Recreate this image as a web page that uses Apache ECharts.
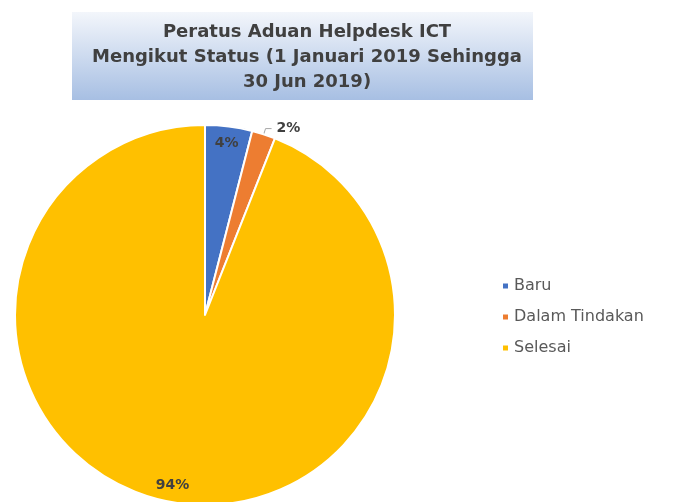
<!DOCTYPE html>
<html>
<head>
<meta charset="utf-8">
<script src="https://cdn.jsdelivr.net/npm/echarts@6/dist/echarts.min.js"></script>
<style>
  html, body { margin: 0; padding: 0; background: #fff; }
  #container { width: 676px; height: 502px; }
</style>
</head>
<body>
<div id="container"></div>
<script>
var categories = ['Baru', 'Dalam Tindakan', 'Selesai'];
var values = [4, 2, 94];
var colors = ['#4472C4', '#ED7D31', '#FFC000'];
var titleText = 'Peratus Aduan Helpdesk ICT\nMengikut Status (1 Januari 2019 Sehingga\n30 Jun 2019)';

var myChart = echarts.init(document.getElementById('container'));

var pieData = categories.map(function (name, i) {
    return {
        name: name,
        value: values[i],
        itemStyle: { color: colors[i] },
        label: { show: i === 1 },
        labelLine: { show: i === 1 }
    };
});

// labels placed near the rim, as in the original (orange one sits outside)
var labelData = categories.map(function (name, i) {
    return {
        name: name,
        value: values[i],
        label: { show: i !== 1 }
    };
});

var option = {
    backgroundColor: '#fff',
    animation: false,
    graphic: [{
        type: 'rect',
        shape: { x: 72, y: 12, width: 461, height: 88 },
        style: {
            fill: new echarts.graphic.LinearGradient(0, 0, 0, 1, [
                { offset: 0, color: '#f3f6fb' },
                { offset: 1, color: '#a7bfe3' }
            ])
        },
        z: 0
    }],
    title: {
        text: titleText,
        left: 302,
        textAlign: 'center',
        top: 15,
        textStyle: {
            fontFamily: 'DejaVu Sans',
            fontSize: 18,
            fontWeight: 'bold',
            color: '#404040',
            lineHeight: 25
        }
    },
    legend: {
        orient: 'vertical',
        left: 496,
        top: 273,
        itemWidth: 7,
        itemHeight: 7,
        itemGap: 15,
        icon: 'rect',
        data: categories,
        textStyle: { fontFamily: 'DejaVu Sans', fontSize: 16, color: '#595959' }
    },
    series: [{
        type: 'pie',
        center: [205, 315],
        radius: [0, 190],
        startAngle: 90,
        clockwise: true,
        data: pieData,
        itemStyle: { borderColor: '#fff', borderWidth: 2 },
        label: {
            position: 'outside',
            formatter: '{d}%',
            fontFamily: 'DejaVu Sans',
            fontSize: 14,
            fontWeight: 'bold',
            color: '#404040'
        },
        labelLine: {
            length: 6,
            length2: 6,
            lineStyle: { color: '#a6a6a6', width: 1 }
        },
        emphasis: { disabled: true }
    }, {
        type: 'pie',
        center: [205, 315],
        radius: [150, 190],
        startAngle: 90,
        clockwise: true,
        silent: true,
        legendHoverLink: false,
        data: labelData,
        itemStyle: { color: 'rgba(0,0,0,0)' },
        label: {
            position: 'inside',
            formatter: '{d}%',
            fontFamily: 'DejaVu Sans',
            fontSize: 14,
            fontWeight: 'bold',
            color: '#404040'
        },
        labelLine: { show: false },
        emphasis: { disabled: true }
    }]
};

myChart.setOption(option);
</script>
</body>
</html>
